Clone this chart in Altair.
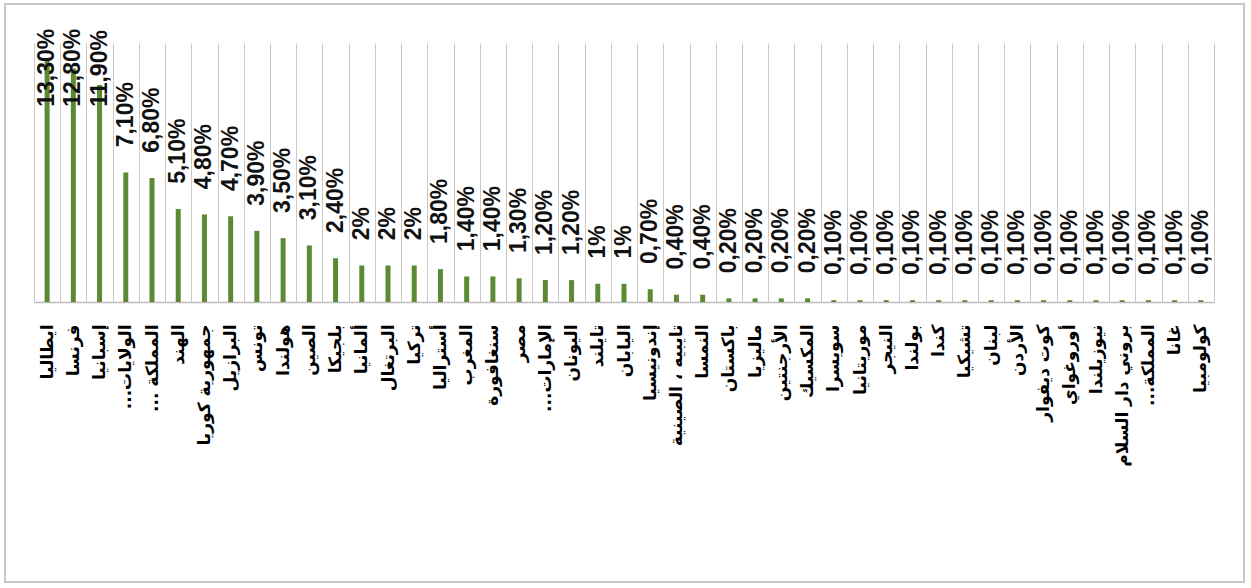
import altair as alt
import pandas as pd

RLM = "\u200f"
countries = [
    "ايطاليا", "فرنسا", "إسبانيا", "الولايات..." + RLM, "المملكة ..." + RLM, "الهند",
    "جمهورية كوريا", "البرازيل", "تونس", "هولندا", "الصين", "بلجيكا",
    "ألمانيا", "البرتغال", "تركيا", "أستراليا", "المغرب", "سنغافورة",
    "مصر", "الإمارات..." + RLM, "اليونان", "تايلند", "اليابان", "إندونيسيا",
    "تايبيه ، الصينية", "النمسا", "باكستان", "ماليزيا", "الأرجنتين", "المكسيك",
    "سويسرا", "موريتانيا", "النيجر", "بولندا", "كندا", "تشيكيا",
    "لبنان", "الأردن", "كوت ديفوار", "أوروغواي", "نيوزيلندا", "بروني دار السلام",
    "المملكة..." + RLM, "غانا", "كولومبيا",
]
values = [
    13.3, 12.8, 11.9, 7.1, 6.8, 5.1, 4.8, 4.7, 3.9, 3.5, 3.1, 2.4,
    2.0, 2.0, 2.0, 1.8, 1.4, 1.4, 1.3, 1.2, 1.2, 1.0, 1.0, 0.7,
    0.4, 0.4, 0.2, 0.2, 0.2, 0.2, 0.1, 0.1, 0.1, 0.1, 0.1, 0.1,
    0.1, 0.1, 0.1, 0.1, 0.1, 0.1, 0.1, 0.1, 0.1,
]
value_labels = [
    "13,30%", "12,80%", "11,90%", "7,10%", "6,80%", "5,10%", "4,80%", "4,70%",
    "3,90%", "3,50%", "3,10%", "2,40%", "2%", "2%", "2%", "1,80%", "1,40%",
    "1,40%", "1,30%", "1,20%", "1,20%", "1%", "1%", "0,70%", "0,40%", "0,40%",
    "0,20%", "0,20%", "0,20%", "0,20%", "0,10%", "0,10%", "0,10%", "0,10%",
    "0,10%", "0,10%", "0,10%", "0,10%", "0,10%", "0,10%", "0,10%", "0,10%",
    "0,10%", "0,10%", "0,10%",
]

df = pd.DataFrame({"country": countries, "value": values, "label": value_labels})

x = alt.X(
    "country:N",
    sort=None,
    scale=alt.Scale(paddingInner=0, paddingOuter=0),
    axis=alt.Axis(
        title=None,
        labelAngle=270,
        labelAlign="right",
        labelBaseline="middle",
        labelFont="DejaVu Sans",
        labelFontSize=17,
        labelFontWeight="bold",
        labelColor="#000000",
        labelPadding=22,
        labelLimit=400,
        ticks=False,
        grid=True,
        gridColor="#c9c9c9",
        gridWidth=1,
        tickBand="extent",
        domainColor="#bdbdbd",
        domainWidth=1.5,
    ),
)
yscale = alt.Scale(domain=[0, 14.2], nice=False)

bars = alt.Chart(df).mark_bar(size=5, color="#5b8a33").encode(
    x=x,
    y=alt.Y("value:Q", scale=yscale, axis=None),
)

texts = alt.Chart(df).transform_calculate(
    pos="min(datum.value + 1.38, 10.7)"
).mark_text(
    angle=270,
    align="left",
    baseline="middle",
    font="Liberation Sans",
    fontWeight="bold",
    fontSize=23,
    color="#111111",
).encode(
    x=alt.X("country:N", sort=None),
    y=alt.Y("pos:Q", scale=yscale),
    text="label:N",
)

frame = alt.Chart(df).mark_rect(
    fill=None, stroke="#c8c8c8", strokeWidth=1.5
).encode(
    x=alt.value(-29), x2=alt.value(1210), y=alt.value(-39), y2=alt.value(539)
)

chart = alt.layer(frame, bars, texts).properties(
    width=1180,
    height=259,
    padding={"left": 34, "top": 43, "right": 37, "bottom": 286},
    autosize=alt.AutoSizeParams(type="none"),
    background="white",
).configure_view(strokeWidth=0)

chart.save("out.html", embed_options={"renderer": "svg", "actions": False})
